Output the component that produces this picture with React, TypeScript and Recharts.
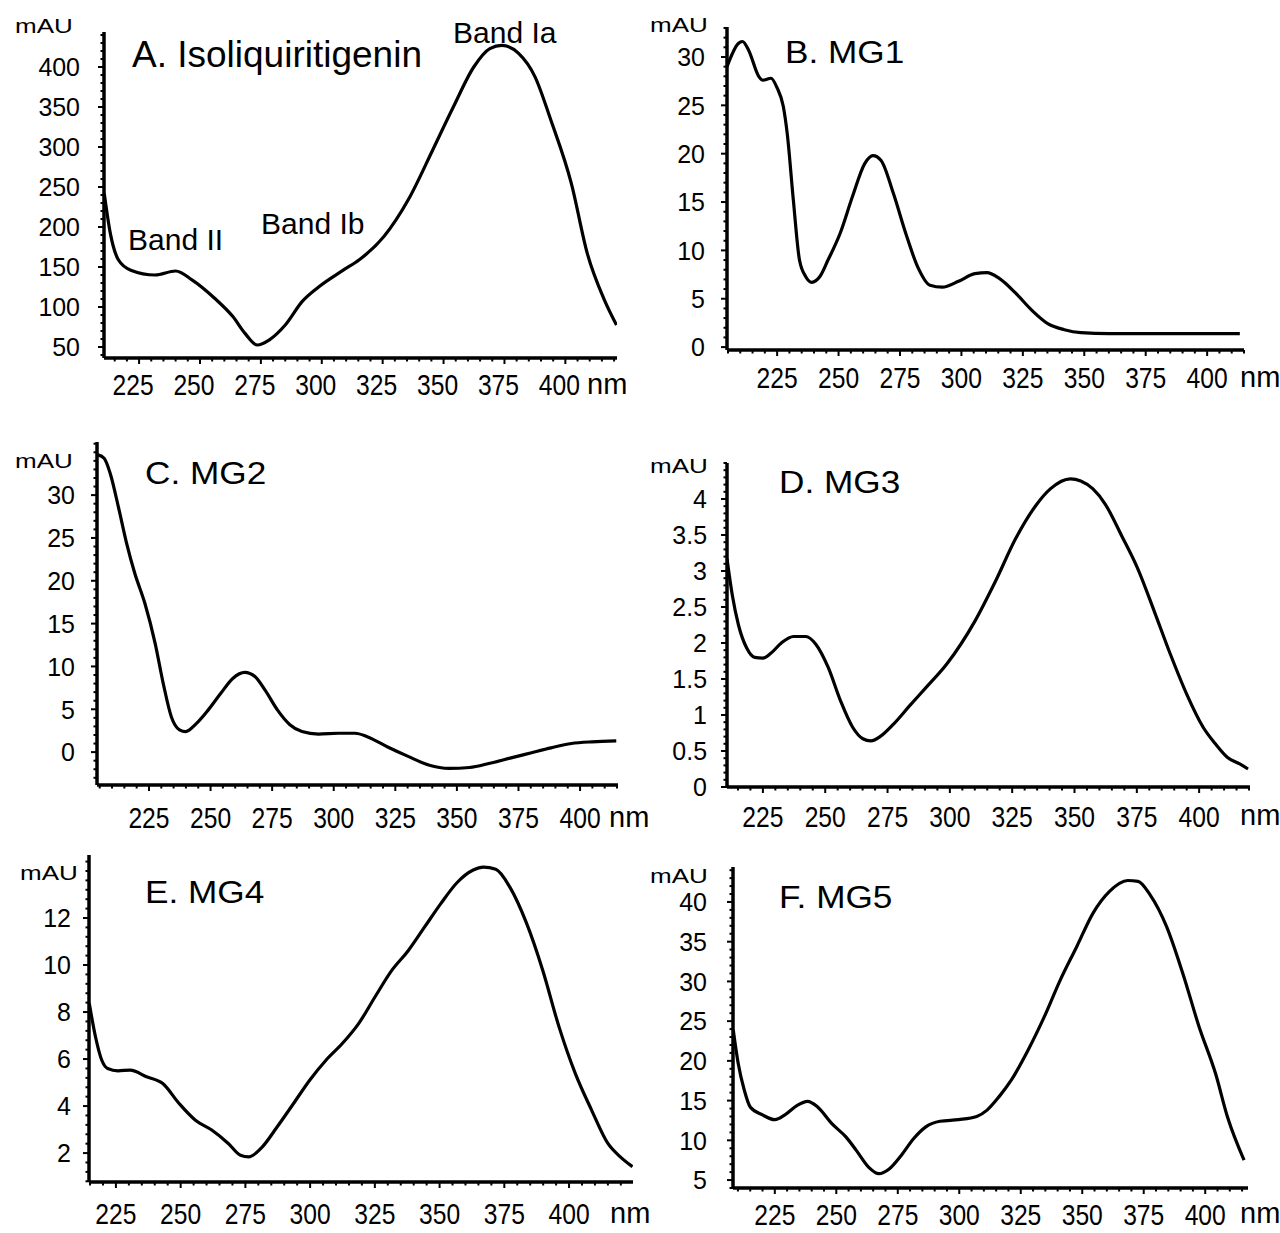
import React from 'react';
import { LineChart, Line, XAxis, YAxis } from 'recharts';

const FONT = '"Liberation Sans", Arial, Helvetica, sans-serif';

// wavelength (nm) and absorbance (mAU)
const nmA = [210.7, 213.2, 216.5, 221.6, 231.6, 240, 246.7, 256, 263.5, 268.5, 273.5, 278.5, 285, 292, 298.7, 308.8, 315.4, 325.5, 335.5, 345.5, 354, 362.4, 369, 374, 380.8, 387.5, 394, 402.5, 409, 416, 421];
const absA = [242, 192, 159, 146, 140, 145, 134, 111, 88, 67, 52.5, 59, 77.5, 107, 125, 146, 159, 188, 234, 296, 350, 400, 423, 427, 417, 388, 334, 254, 167, 109, 77.5];

const nmB = [204.6, 209.2, 210.9, 213.4, 217.5, 219.2, 222.5, 225, 227.5, 229.1, 231.6, 234.1, 236.6, 239.1, 242.4, 245.7, 250.7, 255.7, 260.7, 264, 267.3, 272.3, 277.3, 282.2, 287.2, 292.2, 298.8, 305.5, 310.4, 315.4, 322, 328.7, 335.3, 341.9, 348.6, 360.2, 380, 400, 413.3];
const absB = [29.0, 31.4, 31.6, 30.7, 28.0, 27.6, 27.8, 26.8, 24.9, 22.1, 15.2, 9.0, 7.3, 6.7, 7.3, 9.0, 11.8, 15.6, 19.0, 19.8, 19.3, 15.9, 11.8, 8.3, 6.4, 6.2, 6.8, 7.6, 7.7, 7.1, 5.6, 3.8, 2.4, 1.8, 1.5, 1.4, 1.4, 1.4, 1.4];

const nmC = [204.3, 206.8, 209.3, 212.6, 215.9, 219.2, 223.3, 227.5, 230.8, 234.1, 237.4, 239.9, 244.1, 249, 254, 259, 263.9, 268.1, 272.2, 277.2, 282.2, 287.1, 293.8, 302, 308.7, 313.6, 321.9, 330.2, 338.5, 346.8, 355.1, 363.4, 371.6, 379.9, 388.2, 396.5, 404.8, 414.7];
const absC = [34.7, 34.3, 32.5, 28.6, 24.4, 20.9, 17.4, 12.7, 8.0, 4.1, 2.6, 2.4, 3.3, 4.9, 6.8, 8.6, 9.3, 8.8, 7.2, 4.9, 3.2, 2.4, 2.1, 2.2, 2.2, 1.8, 0.6, -0.5, -1.5, -1.9, -1.8, -1.3, -0.7, -0.1, 0.5, 1.0, 1.2, 1.3];

const nmD = [210.6, 212.7, 215.2, 218.5, 221.7, 225, 228.3, 232.4, 237.3, 242.2, 246.3, 251.2, 256.1, 261, 265.1, 268.3, 272.4, 277.3, 283.9, 290.4, 298.6, 310, 318.2, 326.4, 334.5, 340.3, 348.4, 352.5, 357.4, 362.3, 368.9, 375.4, 382, 388.5, 395, 401.6, 406.5, 411.4, 416.3, 419.6];
const absD = [3.17, 2.67, 2.25, 1.93, 1.8, 1.79, 1.86, 2.0, 2.09, 2.09, 1.98, 1.66, 1.2, 0.83, 0.67, 0.64, 0.71, 0.87, 1.13, 1.38, 1.7, 2.3, 2.85, 3.45, 3.91, 4.14, 4.28, 4.25, 4.14, 3.93, 3.49, 3.03, 2.44, 1.84, 1.29, 0.83, 0.6, 0.41, 0.32, 0.25];

const nmE = [214.7, 217.1, 219.5, 221.8, 225.8, 230.5, 236.8, 243.1, 249.4, 255.7, 262, 268.4, 273.1, 276.3, 281, 287.3, 293.6, 299.9, 306.2, 312.5, 318.8, 325.1, 331.4, 337.8, 344.1, 350.4, 356.7, 363, 366.9, 371.7, 377.2, 383.5, 389.8, 396.1, 402.4, 408.7, 415, 419.8, 424.5];
const absE = [8.37, 6.95, 5.96, 5.6, 5.5, 5.53, 5.25, 4.96, 4.11, 3.4, 2.98, 2.41, 1.91, 1.84, 2.2, 3.12, 4.11, 5.11, 5.96, 6.67, 7.52, 8.65, 9.75, 10.6, 11.6, 12.6, 13.5, 14.04, 14.16, 14.07, 13.3, 11.8, 9.79, 7.38, 5.39, 3.83, 2.41, 1.84, 1.42];

const nmF = [208.1, 210.1, 212.6, 215, 220, 225, 229.1, 234.1, 238.3, 242.4, 248.2, 254, 258.2, 263.2, 267.3, 271.5, 276.4, 281.4, 286.4, 292.2, 299.7, 307.1, 311.3, 316.2, 321.2, 327.9, 334.5, 341.1, 347.8, 354.4, 361, 368.5, 372.7, 377.6, 384.3, 390.9, 397.5, 404.2, 409.1, 415.8];
const absF = [23.9, 19.7, 16.3, 14.2, 13.2, 12.6, 13.2, 14.4, 14.9, 14.2, 12.1, 10.4, 8.7, 6.6, 5.8, 6.4, 8.1, 10.2, 11.7, 12.4, 12.6, 13.0, 13.8, 15.5, 17.6, 21.3, 25.5, 30.2, 34.4, 38.6, 41.3, 42.7, 42.6, 40.9, 36.9, 31, 24.3, 18.4, 12.9, 7.5];

// tick labels
const xMajor = [225, 250, 275, 300, 325, 350, 375, 400];
const yTicksA = [50, 100, 150, 200, 250, 300, 350, 400];
const yTicksB = [0, 5, 10, 15, 20, 25, 30];
const yTicksC = [0, 5, 10, 15, 20, 25, 30];
const yTicksD = [0, 0.5, 1, 1.5, 2, 2.5, 3, 3.5, 4];
const yTicksE = [2, 4, 6, 8, 10, 12];
const yTicksF = [5, 10, 15, 20, 25, 30, 35, 40];

const zip = (nm: number[], abs: number[]) => nm.map((x, i) => ({ nm: x, abs: abs[i] }));

const minorTicks = (lo: number, hi: number, step: number) => {
  const out: number[] = [];
  for (let k = Math.ceil(lo / step - 1e-9); k * step <= hi + 1e-9; k++) {
    out.push(Math.round(k * step * 1000) / 1000);
  }
  return out;
};

type PanelCfg = {
  data: { nm: number; abs: number }[];
  axisX: number;
  top: number;
  bottom: number;
  right: number;
  xDomain: [number, number];
  yDomain: [number, number];
  yTicks: number[];
  yMinor: number;
  yGap: number;
  xBase: number;
  xDx: number;
};

const panels: PanelCfg[] = [
  { data: zip(nmA, absA), axisX: 104, top: 32, bottom: 358, right: 617, xDomain: [210.6, 421.2], yDomain: [36.25, 443.75], yTicks: yTicksA, yMinor: 10, yGap: 24, xBase: 37, xDx: -6 },
  { data: zip(nmB, absB), axisX: 727, top: 27, bottom: 350, right: 1244, xDomain: [204.6, 415], yDomain: [-0.3, 33.1], yTicks: yTicksB, yMinor: 1, yGap: 22, xBase: 38, xDx: 0 },
  { data: zip(nmC, absC), axisX: 97, top: 442, bottom: 785, right: 618, xDomain: [203.9, 415.4], yDomain: [-3.84, 36.2], yTicks: yTicksC, yMinor: 1, yGap: 22, xBase: 43, xDx: 0 },
  { data: zip(nmD, absD), axisX: 727, top: 463, bottom: 787, right: 1250, xDomain: [210.6, 420.4], yDomain: [0, 4.5], yTicks: yTicksD, yMinor: 0.1, yGap: 20, xBase: 40, xDx: 0 },
  { data: zip(nmE, absE), axisX: 89, top: 855, bottom: 1182, right: 633, xDomain: [214.6, 424.7], yDomain: [0.77, 14.68], yTicks: yTicksE, yMinor: 0.4, yGap: 18, xBase: 42, xDx: 0 },
  { data: zip(nmF, absF), axisX: 733, top: 867, bottom: 1188, right: 1248, xDomain: [208, 417.4], yDomain: [4.0, 44.4], yTicks: yTicksF, yMinor: 1, yGap: 26, xBase: 37, xDx: 0 },
];

const XTick = (props: any) => {
  const { x, y, payload, base, dx } = props;
  const v = payload.value;
  const major = xMajor.includes(v);
  return (
    <g>
      <line x1={x} x2={x} y1={y} y2={y + (major ? 6 : 3.5)} stroke="#000" strokeWidth={2} />
      {major && (
        <text transform={`translate(${x + dx},${y + base}) scale(0.85,1)`} textAnchor="middle" fontSize={29} fontFamily={FONT} fill="#000">
          {v}
        </text>
      )}
    </g>
  );
};

const YTick = (props: any) => {
  const { x, y, payload, gap, majors } = props;
  const v = payload.value;
  const major = majors.includes(v);
  return (
    <g>
      <line x1={x} x2={x - (major ? 6 : 3.5)} y1={y} y2={y} stroke="#000" strokeWidth={2} />
      {major && (
        <text transform={`translate(${x - gap},${y + 9.3}) scale(0.96,1)`} textAnchor="end" fontSize={26} fontFamily={FONT} fill="#000">
          {v}
        </text>
      )}
    </g>
  );
};

const Panel = ({ p }: { p: PanelCfg }) => {
  const wy = 100;
  const hx = 50;
  const mt = 10;
  const mr = 10;
  const width = wy + (p.right - p.axisX) + mr;
  const height = mt + (p.bottom - p.top) + hx;
  const xTicks = minorTicks(p.xDomain[0], p.xDomain[1], 5);
  const yTicks = minorTicks(p.yDomain[0], p.yDomain[1], p.yMinor);
  return (
    <div style={{ position: 'absolute', left: p.axisX - wy, top: p.top - mt }}>
      <LineChart width={width} height={height} data={p.data} margin={{ top: mt, right: mr, left: 0, bottom: 0 }}>
        <XAxis
          dataKey="nm"
          type="number"
          domain={p.xDomain}
          allowDataOverflow
          ticks={xTicks}
          interval={0}
          tickSize={0}
          tickMargin={0}
          tickLine={false}
          height={hx}
          axisLine={{ stroke: '#000', strokeWidth: 3.5 }}
          tick={(t: any) => <XTick {...t} base={p.xBase} dx={p.xDx} />}
        />
        <YAxis
          type="number"
          domain={p.yDomain}
          allowDataOverflow
          ticks={yTicks}
          interval={0}
          tickSize={0}
          tickMargin={0}
          tickLine={false}
          width={wy}
          axisLine={{ stroke: '#000', strokeWidth: 3.5 }}
          tick={(t: any) => <YTick {...t} gap={p.yGap} majors={p.yTicks} />}
        />
        <Line type="monotone" dataKey="abs" stroke="#000" strokeWidth={3.2} dot={false} isAnimationActive={false} />
      </LineChart>
    </div>
  );
};

const Txt = ({ left, base, size, sx = 1, children }: { left: number; base: number; size: number; sx?: number; children: React.ReactNode }) => (
  <div
    style={{
      position: 'absolute',
      left,
      top: base - 0.8465 * size,
      fontSize: size,
      lineHeight: `${size}px`,
      fontFamily: FONT,
      whiteSpace: 'nowrap',
      color: '#000',
      transform: `scaleX(${sx})`,
      transformOrigin: 'left top',
    }}
  >
    {children}
  </div>
);

const titles = [
  { text: 'A. Isoliquiritigenin', left: 132, base: 67.5, size: 37, sx: 1 },
  { text: 'B. MG1', left: 785, base: 63, size: 32, sx: 1.1 },
  { text: 'C. MG2', left: 145, base: 484, size: 32, sx: 1.1 },
  { text: 'D. MG3', left: 779, base: 493, size: 32, sx: 1.1 },
  { text: 'E. MG4', left: 145, base: 903, size: 32, sx: 1.1 },
  { text: 'F. MG5', left: 779, base: 908, size: 32, sx: 1.1 },
];

const bands = [
  { text: 'Band II', left: 128, base: 250.5 },
  { text: 'Band Ib', left: 261, base: 234.5 },
  { text: 'Band Ia', left: 453, base: 43.5 },
];

const mauPos = [
  [15, 33], [650, 32], [15, 468], [650, 473], [20, 880], [650, 883],
];

const nmPos = [
  [587, 395], [1240, 388], [609, 828], [1240, 826], [610, 1224], [1240, 1224],
];

export default function App() {
  return (
    <div style={{ position: 'absolute', left: 0, top: 0, width: 1280, height: 1233, overflow: 'hidden', background: '#fff' }}>
      {panels.map((p, i) => (
        <Panel key={i} p={p} />
      ))}
      {titles.map((t) => (
        <Txt key={t.text} left={t.left} base={t.base} size={t.size} sx={t.sx}>
          {t.text}
        </Txt>
      ))}
      {bands.map((b) => (
        <Txt key={b.text} left={b.left} base={b.base} size={30}>
          {b.text}
        </Txt>
      ))}
      {mauPos.map(([l, b], i) => (
        <Txt key={'mau' + i} left={l} base={b} size={20} sx={1.3}>
          mAU
        </Txt>
      ))}
      {nmPos.map(([l, b], i) => (
        <Txt key={'nm' + i} left={l} base={b} size={29}>
          nm
        </Txt>
      ))}
    </div>
  );
}
